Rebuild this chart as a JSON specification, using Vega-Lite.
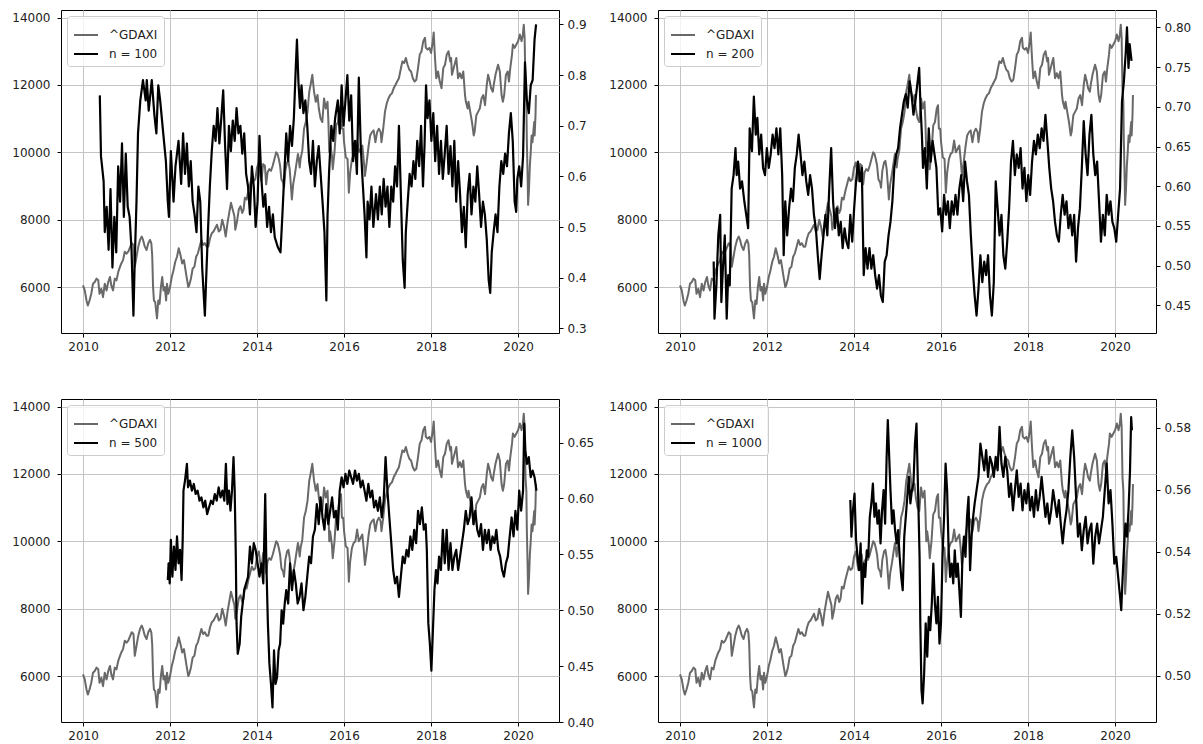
{
"$schema": "https://vega.github.io/schema/vega-lite/v6.json",
"padding": {"left": 11, "top": 9, "right": 0, "bottom": 0},
"background": "white",
"datasets": {
"dax": [
{"t":2010.00,"v":6050},{"t":2010.04,"v":5900},{"t":2010.08,"v":5600},{"t":2010.11,"v":5450},{"t":2010.15,"v":5600},{"t":2010.19,"v":5800},{"t":2010.23,"v":6100},{"t":2010.27,"v":6150},{"t":2010.31,"v":6250},{"t":2010.35,"v":6200},{"t":2010.38,"v":5800},{"t":2010.42,"v":5950},{"t":2010.46,"v":5700},{"t":2010.50,"v":6100},{"t":2010.54,"v":5900},{"t":2010.58,"v":6150},{"t":2010.62,"v":6300},{"t":2010.65,"v":6050},{"t":2010.69,"v":5900},{"t":2010.73,"v":6250},{"t":2010.77,"v":6200},{"t":2010.81,"v":6450},{"t":2010.85,"v":6600},{"t":2010.88,"v":6700},{"t":2010.92,"v":6800},{"t":2010.96,"v":7050},
{"t":2011.00,"v":6990},{"t":2011.04,"v":7050},{"t":2011.08,"v":7180},{"t":2011.12,"v":7300},{"t":2011.16,"v":7250},{"t":2011.19,"v":6600},{"t":2011.23,"v":6900},{"t":2011.27,"v":7200},{"t":2011.31,"v":7400},{"t":2011.35,"v":7500},{"t":2011.38,"v":7400},{"t":2011.42,"v":7200},{"t":2011.46,"v":7100},{"t":2011.50,"v":7300},{"t":2011.54,"v":7400},{"t":2011.57,"v":7300},{"t":2011.59,"v":6950},{"t":2011.61,"v":6000},{"t":2011.63,"v":5600},{"t":2011.66,"v":5550},{"t":2011.70,"v":5072},{"t":2011.73,"v":5600},{"t":2011.76,"v":5500},{"t":2011.79,"v":6000},{"t":2011.82,"v":6300},{"t":2011.85,"v":5900},{"t":2011.88,"v":6000},{"t":2011.91,"v":5600},{"t":2011.93,"v":6100},{"t":2011.96,"v":5800},
{"t":2012.00,"v":6000},{"t":2012.04,"v":6300},{"t":2012.08,"v":6500},{"t":2012.12,"v":6750},{"t":2012.16,"v":6900},{"t":2012.20,"v":7150},{"t":2012.24,"v":6950},{"t":2012.28,"v":6700},{"t":2012.32,"v":6800},{"t":2012.35,"v":6550},{"t":2012.38,"v":6300},{"t":2012.42,"v":6000},{"t":2012.44,"v":6050},{"t":2012.48,"v":6250},{"t":2012.52,"v":6550},{"t":2012.56,"v":6600},{"t":2012.60,"v":6900},{"t":2012.64,"v":7000},{"t":2012.68,"v":7200},{"t":2012.72,"v":7400},{"t":2012.76,"v":7250},{"t":2012.80,"v":7300},{"t":2012.84,"v":7200},{"t":2012.88,"v":7200},{"t":2012.92,"v":7450},{"t":2012.96,"v":7600},
{"t":2013.00,"v":7650},{"t":2013.04,"v":7750},{"t":2013.08,"v":7850},{"t":2013.12,"v":7650},{"t":2013.16,"v":7700},{"t":2013.20,"v":8000},{"t":2013.24,"v":7800},{"t":2013.28,"v":7500},{"t":2013.32,"v":7900},{"t":2013.36,"v":8200},{"t":2013.40,"v":8500},{"t":2013.44,"v":8300},{"t":2013.48,"v":8100},{"t":2013.50,"v":7700},{"t":2013.54,"v":7950},{"t":2013.58,"v":8300},{"t":2013.62,"v":8400},{"t":2013.66,"v":8200},{"t":2013.69,"v":8300},{"t":2013.72,"v":8650},{"t":2013.76,"v":8600},{"t":2013.80,"v":8850},{"t":2013.84,"v":9050},{"t":2013.88,"v":9250},{"t":2013.92,"v":9150},{"t":2013.96,"v":9200},
{"t":2014.00,"v":9550},{"t":2014.04,"v":9700},{"t":2014.08,"v":9300},{"t":2014.10,"v":9150},{"t":2014.14,"v":9650},{"t":2014.18,"v":9600},{"t":2014.21,"v":9050},{"t":2014.24,"v":9400},{"t":2014.28,"v":9500},{"t":2014.32,"v":9450},{"t":2014.36,"v":9600},{"t":2014.40,"v":9800},{"t":2014.44,"v":10000},{"t":2014.47,"v":9950},{"t":2014.50,"v":9800},{"t":2014.53,"v":9600},{"t":2014.56,"v":9200},{"t":2014.60,"v":9100},{"t":2014.62,"v":8950},{"t":2014.65,"v":9450},{"t":2014.69,"v":9700},{"t":2014.72,"v":9750},{"t":2014.75,"v":9500},{"t":2014.79,"v":8800},{"t":2014.80,"v":8600},{"t":2014.83,"v":9050},{"t":2014.87,"v":9350},{"t":2014.91,"v":9700},{"t":2014.94,"v":9950},{"t":2014.96,"v":9800},{"t":2014.98,"v":9550},
{"t":2015.00,"v":9800},{"t":2015.04,"v":10050},{"t":2015.08,"v":10700},{"t":2015.12,"v":10900},{"t":2015.16,"v":11200},{"t":2015.20,"v":11800},{"t":2015.23,"v":12000},{"t":2015.27,"v":12300},{"t":2015.31,"v":11800},{"t":2015.35,"v":11500},{"t":2015.39,"v":11700},{"t":2015.42,"v":11300},{"t":2015.46,"v":11000},{"t":2015.50,"v":10900},{"t":2015.54,"v":11600},{"t":2015.58,"v":11300},{"t":2015.62,"v":11500},{"t":2015.64,"v":10900},{"t":2015.66,"v":10000},{"t":2015.68,"v":10300},{"t":2015.72,"v":9900},{"t":2015.74,"v":9500},{"t":2015.78,"v":10000},{"t":2015.82,"v":10800},{"t":2015.86,"v":10900},{"t":2015.90,"v":11300},{"t":2015.93,"v":11400},{"t":2015.95,"v":10700},{"t":2015.98,"v":10700},
{"t":2016.00,"v":10300},{"t":2016.04,"v":9850},{"t":2016.08,"v":9800},{"t":2016.11,"v":8800},{"t":2016.14,"v":9400},{"t":2016.18,"v":9800},{"t":2016.22,"v":9950},{"t":2016.26,"v":10000},{"t":2016.30,"v":10350},{"t":2016.34,"v":10000},{"t":2016.38,"v":10100},{"t":2016.42,"v":10200},{"t":2016.45,"v":9800},{"t":2016.48,"v":9300},{"t":2016.52,"v":9700},{"t":2016.56,"v":10150},{"t":2016.60,"v":10500},{"t":2016.64,"v":10600},{"t":2016.68,"v":10650},{"t":2016.72,"v":10300},{"t":2016.76,"v":10600},{"t":2016.80,"v":10700},{"t":2016.84,"v":10600},{"t":2016.86,"v":10300},{"t":2016.90,"v":10700},{"t":2016.94,"v":11200},{"t":2016.98,"v":11450},
{"t":2017.02,"v":11600},{"t":2017.06,"v":11700},{"t":2017.10,"v":11750},{"t":2017.14,"v":11900},{"t":2017.18,"v":12000},{"t":2017.22,"v":12100},{"t":2017.26,"v":12200},{"t":2017.30,"v":12450},{"t":2017.34,"v":12700},{"t":2017.38,"v":12650},{"t":2017.42,"v":12800},{"t":2017.46,"v":12600},{"t":2017.50,"v":12450},{"t":2017.54,"v":12400},{"t":2017.58,"v":12200},{"t":2017.62,"v":12100},{"t":2017.66,"v":12150},{"t":2017.70,"v":12500},{"t":2017.74,"v":12900},{"t":2017.78,"v":13000},{"t":2017.82,"v":13300},{"t":2017.86,"v":13400},{"t":2017.88,"v":13100},{"t":2017.92,"v":13050},{"t":2017.96,"v":13100},
{"t":2018.00,"v":12950},{"t":2018.04,"v":13300},{"t":2018.06,"v":13560},{"t":2018.09,"v":12800},{"t":2018.12,"v":12200},{"t":2018.16,"v":12400},{"t":2018.20,"v":12100},{"t":2018.24,"v":11900},{"t":2018.28,"v":12500},{"t":2018.32,"v":12600},{"t":2018.36,"v":12900},{"t":2018.40,"v":13000},{"t":2018.44,"v":12700},{"t":2018.46,"v":12800},{"t":2018.48,"v":12300},{"t":2018.52,"v":12500},{"t":2018.56,"v":12700},{"t":2018.58,"v":12800},{"t":2018.62,"v":12200},{"t":2018.66,"v":12350},{"t":2018.70,"v":12200},{"t":2018.74,"v":12400},{"t":2018.78,"v":11700},{"t":2018.80,"v":11500},{"t":2018.84,"v":11300},{"t":2018.86,"v":11500},{"t":2018.90,"v":11200},{"t":2018.94,"v":10900},{"t":2018.98,"v":10500},
{"t":2019.00,"v":10600},{"t":2019.04,"v":11100},{"t":2019.08,"v":11200},{"t":2019.12,"v":11300},{"t":2019.16,"v":11600},{"t":2019.20,"v":11700},{"t":2019.24,"v":11400},{"t":2019.28,"v":12000},{"t":2019.31,"v":12300},{"t":2019.35,"v":12100},{"t":2019.38,"v":11900},{"t":2019.42,"v":11800},{"t":2019.44,"v":12000},{"t":2019.48,"v":12300},{"t":2019.52,"v":12500},{"t":2019.54,"v":12600},{"t":2019.58,"v":12400},{"t":2019.62,"v":11700},{"t":2019.65,"v":11500},{"t":2019.68,"v":11700},{"t":2019.72,"v":12300},{"t":2019.76,"v":12400},{"t":2019.79,"v":12100},{"t":2019.82,"v":12500},{"t":2019.86,"v":12900},{"t":2019.88,"v":13200},{"t":2019.92,"v":13100},{"t":2019.96,"v":13200},
{"t":2020.00,"v":13300},{"t":2020.04,"v":13500},{"t":2020.08,"v":13300},{"t":2020.11,"v":13500},{"t":2020.13,"v":13789},{"t":2020.15,"v":13400},{"t":2020.17,"v":11900},{"t":2020.19,"v":11500},{"t":2020.20,"v":10400},{"t":2020.22,"v":9200},{"t":2020.23,"v":8440},{"t":2020.25,"v":8900},{"t":2020.27,"v":9600},{"t":2020.29,"v":10000},{"t":2020.31,"v":10500},{"t":2020.33,"v":10300},{"t":2020.35,"v":10600},{"t":2020.37,"v":10900},{"t":2020.38,"v":10500},{"t":2020.40,"v":11100},{"t":2020.41,"v":11700}
],
"h": [
{"p":1,"t":2010.386,"v":0.76},{"p":1,"t":2010.413,"v":0.64},{"p":1,"t":2010.474,"v":0.59},{"p":1,"t":2010.500,"v":0.49},{"p":1,"t":2010.544,"v":0.54},{"p":1,"t":2010.588,"v":0.455},{"p":1,"t":2010.632,"v":0.575},{"p":1,"t":2010.676,"v":0.42},{"p":1,"t":2010.720,"v":0.52},{"p":1,"t":2010.764,"v":0.45},{"p":1,"t":2010.808,"v":0.62},{"p":1,"t":2010.852,"v":0.55},{"p":1,"t":2010.896,"v":0.665},{"p":1,"t":2010.939,"v":0.52},{"p":1,"t":2010.983,"v":0.645},
{"p":1,"t":2011.027,"v":0.54},{"p":1,"t":2011.071,"v":0.52},{"p":1,"t":2011.115,"v":0.455},{"p":1,"t":2011.159,"v":0.325},{"p":1,"t":2011.185,"v":0.42},{"p":1,"t":2011.229,"v":0.55},{"p":1,"t":2011.264,"v":0.685},{"p":1,"t":2011.317,"v":0.75},{"p":1,"t":2011.378,"v":0.79},{"p":1,"t":2011.440,"v":0.75},{"p":1,"t":2011.466,"v":0.79},{"p":1,"t":2011.510,"v":0.73},{"p":1,"t":2011.580,"v":0.79},{"p":1,"t":2011.642,"v":0.72},{"p":1,"t":2011.686,"v":0.685},{"p":1,"t":2011.730,"v":0.78},{"p":1,"t":2011.773,"v":0.75},{"p":1,"t":2011.844,"v":0.685},{"p":1,"t":2011.905,"v":0.63},{"p":1,"t":2011.949,"v":0.55},{"p":1,"t":2011.975,"v":0.52},
{"p":1,"t":2012.019,"v":0.65},{"p":1,"t":2012.081,"v":0.55},{"p":1,"t":2012.125,"v":0.62},{"p":1,"t":2012.195,"v":0.67},{"p":1,"t":2012.256,"v":0.585},{"p":1,"t":2012.300,"v":0.685},{"p":1,"t":2012.344,"v":0.605},{"p":1,"t":2012.388,"v":0.665},{"p":1,"t":2012.432,"v":0.58},{"p":1,"t":2012.476,"v":0.63},{"p":1,"t":2012.520,"v":0.55},{"p":1,"t":2012.564,"v":0.525},{"p":1,"t":2012.608,"v":0.49},{"p":1,"t":2012.652,"v":0.58},{"p":1,"t":2012.695,"v":0.55},{"p":1,"t":2012.739,"v":0.42},{"p":1,"t":2012.801,"v":0.325},{"p":1,"t":2012.827,"v":0.39},{"p":1,"t":2012.871,"v":0.49},{"p":1,"t":2012.915,"v":0.58},{"p":1,"t":2012.959,"v":0.65},
{"p":1,"t":2013.003,"v":0.70},{"p":1,"t":2013.047,"v":0.67},{"p":1,"t":2013.090,"v":0.735},{"p":1,"t":2013.134,"v":0.665},{"p":1,"t":2013.178,"v":0.715},{"p":1,"t":2013.222,"v":0.77},{"p":1,"t":2013.266,"v":0.66},{"p":1,"t":2013.310,"v":0.575},{"p":1,"t":2013.354,"v":0.70},{"p":1,"t":2013.398,"v":0.65},{"p":1,"t":2013.442,"v":0.71},{"p":1,"t":2013.486,"v":0.67},{"p":1,"t":2013.529,"v":0.735},{"p":1,"t":2013.573,"v":0.685},{"p":1,"t":2013.617,"v":0.70},{"p":1,"t":2013.661,"v":0.645},{"p":1,"t":2013.705,"v":0.685},{"p":1,"t":2013.749,"v":0.605},{"p":1,"t":2013.793,"v":0.58},{"p":1,"t":2013.837,"v":0.525},{"p":1,"t":2013.881,"v":0.62},{"p":1,"t":2013.925,"v":0.58},{"p":1,"t":2013.968,"v":0.50},
{"p":1,"t":2014.012,"v":0.55},{"p":1,"t":2014.056,"v":0.68},{"p":1,"t":2014.100,"v":0.595},{"p":1,"t":2014.144,"v":0.54},{"p":1,"t":2014.188,"v":0.565},{"p":1,"t":2014.232,"v":0.50},{"p":1,"t":2014.276,"v":0.54},{"p":1,"t":2014.320,"v":0.49},{"p":1,"t":2014.364,"v":0.525},{"p":1,"t":2014.407,"v":0.48},{"p":1,"t":2014.478,"v":0.46},{"p":1,"t":2014.539,"v":0.45},{"p":1,"t":2014.583,"v":0.525},{"p":1,"t":2014.627,"v":0.605},{"p":1,"t":2014.671,"v":0.685},{"p":1,"t":2014.715,"v":0.63},{"p":1,"t":2014.759,"v":0.70},{"p":1,"t":2014.803,"v":0.66},{"p":1,"t":2014.846,"v":0.715},{"p":1,"t":2014.890,"v":0.815},{"p":1,"t":2014.917,"v":0.87},{"p":1,"t":2014.952,"v":0.785},{"p":1,"t":2014.987,"v":0.735},
{"p":1,"t":2015.022,"v":0.78},{"p":1,"t":2015.066,"v":0.725},{"p":1,"t":2015.110,"v":0.75},{"p":1,"t":2015.154,"v":0.70},{"p":1,"t":2015.198,"v":0.63},{"p":1,"t":2015.241,"v":0.605},{"p":1,"t":2015.285,"v":0.67},{"p":1,"t":2015.329,"v":0.58},{"p":1,"t":2015.373,"v":0.63},{"p":1,"t":2015.417,"v":0.66},{"p":1,"t":2015.461,"v":0.605},{"p":1,"t":2015.505,"v":0.55},{"p":1,"t":2015.549,"v":0.49},{"p":1,"t":2015.593,"v":0.355},{"p":1,"t":2015.619,"v":0.52},{"p":1,"t":2015.654,"v":0.605},{"p":1,"t":2015.707,"v":0.70},{"p":1,"t":2015.751,"v":0.67},{"p":1,"t":2015.795,"v":0.715},{"p":1,"t":2015.856,"v":0.75},{"p":1,"t":2015.900,"v":0.685},{"p":1,"t":2015.944,"v":0.78},{"p":1,"t":2015.988,"v":0.70},
{"p":1,"t":2016.032,"v":0.75},{"p":1,"t":2016.076,"v":0.80},{"p":1,"t":2016.119,"v":0.71},{"p":1,"t":2016.163,"v":0.76},{"p":1,"t":2016.207,"v":0.63},{"p":1,"t":2016.251,"v":0.67},{"p":1,"t":2016.295,"v":0.605},{"p":1,"t":2016.339,"v":0.795},{"p":1,"t":2016.383,"v":0.66},{"p":1,"t":2016.427,"v":0.59},{"p":1,"t":2016.471,"v":0.525},{"p":1,"t":2016.514,"v":0.44},{"p":1,"t":2016.541,"v":0.55},{"p":1,"t":2016.585,"v":0.515},{"p":1,"t":2016.629,"v":0.58},{"p":1,"t":2016.673,"v":0.50},{"p":1,"t":2016.734,"v":0.565},{"p":1,"t":2016.778,"v":0.515},{"p":1,"t":2016.822,"v":0.58},{"p":1,"t":2016.866,"v":0.525},{"p":1,"t":2016.910,"v":0.595},{"p":1,"t":2016.954,"v":0.54},{"p":1,"t":2016.997,"v":0.58},
{"p":1,"t":2017.041,"v":0.50},{"p":1,"t":2017.085,"v":0.58},{"p":1,"t":2017.129,"v":0.55},{"p":1,"t":2017.173,"v":0.62},{"p":1,"t":2017.217,"v":0.58},{"p":1,"t":2017.261,"v":0.70},{"p":1,"t":2017.305,"v":0.565},{"p":1,"t":2017.349,"v":0.435},{"p":1,"t":2017.392,"v":0.38},{"p":1,"t":2017.419,"v":0.49},{"p":1,"t":2017.463,"v":0.55},{"p":1,"t":2017.507,"v":0.605},{"p":1,"t":2017.551,"v":0.58},{"p":1,"t":2017.594,"v":0.63},{"p":1,"t":2017.638,"v":0.595},{"p":1,"t":2017.682,"v":0.67},{"p":1,"t":2017.726,"v":0.62},{"p":1,"t":2017.770,"v":0.70},{"p":1,"t":2017.814,"v":0.58},{"p":1,"t":2017.849,"v":0.66},{"p":1,"t":2017.884,"v":0.78},{"p":1,"t":2017.919,"v":0.715},{"p":1,"t":2017.963,"v":0.75},
{"p":1,"t":2018.007,"v":0.67},{"p":1,"t":2018.051,"v":0.725},{"p":1,"t":2018.095,"v":0.63},{"p":1,"t":2018.139,"v":0.70},{"p":1,"t":2018.183,"v":0.605},{"p":1,"t":2018.227,"v":0.67},{"p":1,"t":2018.270,"v":0.595},{"p":1,"t":2018.314,"v":0.645},{"p":1,"t":2018.358,"v":0.70},{"p":1,"t":2018.402,"v":0.605},{"p":1,"t":2018.446,"v":0.66},{"p":1,"t":2018.490,"v":0.58},{"p":1,"t":2018.534,"v":0.67},{"p":1,"t":2018.578,"v":0.55},{"p":1,"t":2018.622,"v":0.63},{"p":1,"t":2018.666,"v":0.565},{"p":1,"t":2018.709,"v":0.49},{"p":1,"t":2018.753,"v":0.54},{"p":1,"t":2018.797,"v":0.46},{"p":1,"t":2018.841,"v":0.565},{"p":1,"t":2018.885,"v":0.605},{"p":1,"t":2018.929,"v":0.525},{"p":1,"t":2018.973,"v":0.58},
{"p":1,"t":2019.017,"v":0.55},{"p":1,"t":2019.061,"v":0.62},{"p":1,"t":2019.104,"v":0.565},{"p":1,"t":2019.148,"v":0.50},{"p":1,"t":2019.192,"v":0.55},{"p":1,"t":2019.236,"v":0.525},{"p":1,"t":2019.280,"v":0.475},{"p":1,"t":2019.324,"v":0.395},{"p":1,"t":2019.359,"v":0.37},{"p":1,"t":2019.394,"v":0.45},{"p":1,"t":2019.438,"v":0.49},{"p":1,"t":2019.482,"v":0.525},{"p":1,"t":2019.526,"v":0.49},{"p":1,"t":2019.570,"v":0.58},{"p":1,"t":2019.614,"v":0.63},{"p":1,"t":2019.658,"v":0.605},{"p":1,"t":2019.701,"v":0.645},{"p":1,"t":2019.745,"v":0.62},{"p":1,"t":2019.789,"v":0.685},{"p":1,"t":2019.833,"v":0.725},{"p":1,"t":2019.877,"v":0.67},{"p":1,"t":2019.921,"v":0.55},{"p":1,"t":2019.956,"v":0.53},{"p":1,"t":2019.982,"v":0.595},
{"p":1,"t":2020.026,"v":0.62},{"p":1,"t":2020.070,"v":0.58},{"p":1,"t":2020.114,"v":0.64},{"p":1,"t":2020.158,"v":0.825},{"p":1,"t":2020.202,"v":0.75},{"p":1,"t":2020.246,"v":0.725},{"p":1,"t":2020.290,"v":0.78},{"p":1,"t":2020.334,"v":0.79},{"p":1,"t":2020.378,"v":0.87},{"p":1,"t":2020.413,"v":0.90},

{"p":2,"t":2010.774,"v":0.505},{"p":2,"t":2010.792,"v":0.433},{"p":2,"t":2010.836,"v":0.475},{"p":2,"t":2010.880,"v":0.538},{"p":2,"t":2010.923,"v":0.564},{"p":2,"t":2010.950,"v":0.454},{"p":2,"t":2010.985,"v":0.496},
{"p":2,"t":2011.029,"v":0.538},{"p":2,"t":2011.073,"v":0.433},{"p":2,"t":2011.108,"v":0.488},{"p":2,"t":2011.143,"v":0.475},{"p":2,"t":2011.187,"v":0.597},{"p":2,"t":2011.231,"v":0.614},{"p":2,"t":2011.275,"v":0.648},{"p":2,"t":2011.302,"v":0.614},{"p":2,"t":2011.337,"v":0.631},{"p":2,"t":2011.381,"v":0.597},{"p":2,"t":2011.425,"v":0.606},{"p":2,"t":2011.478,"v":0.581},{"p":2,"t":2011.522,"v":0.564},{"p":2,"t":2011.566,"v":0.547},{"p":2,"t":2011.601,"v":0.673},{"p":2,"t":2011.653,"v":0.644},{"p":2,"t":2011.697,"v":0.713},{"p":2,"t":2011.741,"v":0.665},{"p":2,"t":2011.777,"v":0.686},{"p":2,"t":2011.821,"v":0.640},{"p":2,"t":2011.865,"v":0.665},{"p":2,"t":2011.909,"v":0.623},{"p":2,"t":2011.953,"v":0.614},{"p":2,"t":2011.996,"v":0.648},
{"p":2,"t":2012.040,"v":0.623},{"p":2,"t":2012.084,"v":0.640},{"p":2,"t":2012.128,"v":0.665},{"p":2,"t":2012.172,"v":0.648},{"p":2,"t":2012.216,"v":0.673},{"p":2,"t":2012.260,"v":0.640},{"p":2,"t":2012.304,"v":0.673},{"p":2,"t":2012.348,"v":0.614},{"p":2,"t":2012.383,"v":0.513},{"p":2,"t":2012.419,"v":0.581},{"p":2,"t":2012.463,"v":0.538},{"p":2,"t":2012.507,"v":0.572},{"p":2,"t":2012.551,"v":0.597},{"p":2,"t":2012.595,"v":0.581},{"p":2,"t":2012.639,"v":0.623},{"p":2,"t":2012.683,"v":0.640},{"p":2,"t":2012.726,"v":0.665},{"p":2,"t":2012.770,"v":0.640},{"p":2,"t":2012.814,"v":0.614},{"p":2,"t":2012.858,"v":0.631},{"p":2,"t":2012.902,"v":0.606},{"p":2,"t":2012.946,"v":0.589},{"p":2,"t":2012.990,"v":0.614},
{"p":2,"t":2013.034,"v":0.597},{"p":2,"t":2013.078,"v":0.564},{"p":2,"t":2013.122,"v":0.547},{"p":2,"t":2013.166,"v":0.513},{"p":2,"t":2013.210,"v":0.483},{"p":2,"t":2013.254,"v":0.513},{"p":2,"t":2013.298,"v":0.538},{"p":2,"t":2013.342,"v":0.564},{"p":2,"t":2013.386,"v":0.538},{"p":2,"t":2013.430,"v":0.597},{"p":2,"t":2013.474,"v":0.648},{"p":2,"t":2013.518,"v":0.581},{"p":2,"t":2013.562,"v":0.547},{"p":2,"t":2013.606,"v":0.572},{"p":2,"t":2013.650,"v":0.538},{"p":2,"t":2013.694,"v":0.555},{"p":2,"t":2013.738,"v":0.522},{"p":2,"t":2013.782,"v":0.547},{"p":2,"t":2013.826,"v":0.530},{"p":2,"t":2013.870,"v":0.522},{"p":2,"t":2013.914,"v":0.564},{"p":2,"t":2013.958,"v":0.530},
{"p":2,"t":2014.002,"v":0.572},{"p":2,"t":2014.046,"v":0.606},{"p":2,"t":2014.090,"v":0.631},{"p":2,"t":2014.134,"v":0.606},{"p":2,"t":2014.178,"v":0.623},{"p":2,"t":2014.222,"v":0.488},{"p":2,"t":2014.266,"v":0.522},{"p":2,"t":2014.310,"v":0.496},{"p":2,"t":2014.354,"v":0.522},{"p":2,"t":2014.398,"v":0.496},{"p":2,"t":2014.441,"v":0.513},{"p":2,"t":2014.485,"v":0.488},{"p":2,"t":2014.529,"v":0.471},{"p":2,"t":2014.573,"v":0.488},{"p":2,"t":2014.617,"v":0.462},{"p":2,"t":2014.661,"v":0.454},{"p":2,"t":2014.705,"v":0.505},{"p":2,"t":2014.749,"v":0.513},{"p":2,"t":2014.793,"v":0.538},{"p":2,"t":2014.837,"v":0.555},{"p":2,"t":2014.881,"v":0.581},{"p":2,"t":2014.925,"v":0.623},{"p":2,"t":2014.969,"v":0.640},
{"p":2,"t":2015.013,"v":0.648},{"p":2,"t":2015.057,"v":0.673},{"p":2,"t":2015.101,"v":0.690},{"p":2,"t":2015.145,"v":0.707},{"p":2,"t":2015.189,"v":0.716},{"p":2,"t":2015.233,"v":0.699},{"p":2,"t":2015.277,"v":0.732},{"p":2,"t":2015.321,"v":0.716},{"p":2,"t":2015.365,"v":0.690},{"p":2,"t":2015.409,"v":0.707},{"p":2,"t":2015.453,"v":0.728},{"p":2,"t":2015.497,"v":0.749},{"p":2,"t":2015.523,"v":0.707},{"p":2,"t":2015.559,"v":0.665},{"p":2,"t":2015.585,"v":0.623},{"p":2,"t":2015.629,"v":0.648},{"p":2,"t":2015.673,"v":0.597},{"p":2,"t":2015.717,"v":0.673},{"p":2,"t":2015.761,"v":0.631},{"p":2,"t":2015.805,"v":0.657},{"p":2,"t":2015.849,"v":0.640},{"p":2,"t":2015.893,"v":0.623},{"p":2,"t":2015.937,"v":0.564},{"p":2,"t":2015.981,"v":0.572},
{"p":2,"t":2016.025,"v":0.543},{"p":2,"t":2016.069,"v":0.589},{"p":2,"t":2016.113,"v":0.564},{"p":2,"t":2016.157,"v":0.581},{"p":2,"t":2016.201,"v":0.547},{"p":2,"t":2016.245,"v":0.581},{"p":2,"t":2016.289,"v":0.564},{"p":2,"t":2016.332,"v":0.589},{"p":2,"t":2016.376,"v":0.564},{"p":2,"t":2016.420,"v":0.597},{"p":2,"t":2016.464,"v":0.614},{"p":2,"t":2016.508,"v":0.581},{"p":2,"t":2016.552,"v":0.631},{"p":2,"t":2016.596,"v":0.606},{"p":2,"t":2016.640,"v":0.589},{"p":2,"t":2016.684,"v":0.538},{"p":2,"t":2016.728,"v":0.496},{"p":2,"t":2016.772,"v":0.462},{"p":2,"t":2016.816,"v":0.437},{"p":2,"t":2016.860,"v":0.471},{"p":2,"t":2016.904,"v":0.513},{"p":2,"t":2016.948,"v":0.479},{"p":2,"t":2016.992,"v":0.505},
{"p":2,"t":2017.036,"v":0.488},{"p":2,"t":2017.080,"v":0.513},{"p":2,"t":2017.124,"v":0.462},{"p":2,"t":2017.168,"v":0.437},{"p":2,"t":2017.212,"v":0.479},{"p":2,"t":2017.256,"v":0.606},{"p":2,"t":2017.300,"v":0.572},{"p":2,"t":2017.344,"v":0.538},{"p":2,"t":2017.388,"v":0.564},{"p":2,"t":2017.432,"v":0.513},{"p":2,"t":2017.476,"v":0.496},{"p":2,"t":2017.520,"v":0.530},{"p":2,"t":2017.564,"v":0.572},{"p":2,"t":2017.608,"v":0.631},{"p":2,"t":2017.652,"v":0.657},{"p":2,"t":2017.696,"v":0.614},{"p":2,"t":2017.740,"v":0.640},{"p":2,"t":2017.784,"v":0.623},{"p":2,"t":2017.828,"v":0.648},{"p":2,"t":2017.872,"v":0.597},{"p":2,"t":2017.916,"v":0.623},{"p":2,"t":2017.960,"v":0.581},
{"p":2,"t":2018.003,"v":0.614},{"p":2,"t":2018.047,"v":0.589},{"p":2,"t":2018.091,"v":0.631},{"p":2,"t":2018.135,"v":0.657},{"p":2,"t":2018.179,"v":0.640},{"p":2,"t":2018.223,"v":0.665},{"p":2,"t":2018.267,"v":0.648},{"p":2,"t":2018.311,"v":0.673},{"p":2,"t":2018.355,"v":0.657},{"p":2,"t":2018.399,"v":0.690},{"p":2,"t":2018.443,"v":0.657},{"p":2,"t":2018.487,"v":0.623},{"p":2,"t":2018.531,"v":0.597},{"p":2,"t":2018.575,"v":0.581},{"p":2,"t":2018.619,"v":0.555},{"p":2,"t":2018.663,"v":0.538},{"p":2,"t":2018.707,"v":0.530},{"p":2,"t":2018.751,"v":0.564},{"p":2,"t":2018.795,"v":0.589},{"p":2,"t":2018.839,"v":0.564},{"p":2,"t":2018.883,"v":0.581},{"p":2,"t":2018.927,"v":0.547},{"p":2,"t":2018.971,"v":0.564},
{"p":2,"t":2019.015,"v":0.538},{"p":2,"t":2019.059,"v":0.564},{"p":2,"t":2019.103,"v":0.505},{"p":2,"t":2019.147,"v":0.547},{"p":2,"t":2019.191,"v":0.572},{"p":2,"t":2019.235,"v":0.623},{"p":2,"t":2019.279,"v":0.682},{"p":2,"t":2019.323,"v":0.640},{"p":2,"t":2019.367,"v":0.614},{"p":2,"t":2019.411,"v":0.665},{"p":2,"t":2019.455,"v":0.690},{"p":2,"t":2019.499,"v":0.640},{"p":2,"t":2019.543,"v":0.614},{"p":2,"t":2019.587,"v":0.631},{"p":2,"t":2019.631,"v":0.581},{"p":2,"t":2019.675,"v":0.530},{"p":2,"t":2019.719,"v":0.564},{"p":2,"t":2019.763,"v":0.538},{"p":2,"t":2019.807,"v":0.589},{"p":2,"t":2019.851,"v":0.564},{"p":2,"t":2019.894,"v":0.581},{"p":2,"t":2019.938,"v":0.555},{"p":2,"t":2019.982,"v":0.547},
{"p":2,"t":2020.026,"v":0.530},{"p":2,"t":2020.070,"v":0.564},{"p":2,"t":2020.114,"v":0.597},{"p":2,"t":2020.158,"v":0.707},{"p":2,"t":2020.202,"v":0.732},{"p":2,"t":2020.246,"v":0.770},{"p":2,"t":2020.273,"v":0.800},{"p":2,"t":2020.308,"v":0.749},{"p":2,"t":2020.334,"v":0.779},{"p":2,"t":2020.378,"v":0.758},

{"p":3,"t":2011.949,"v":0.527},{"p":3,"t":2011.967,"v":0.542},{"p":3,"t":2011.993,"v":0.524},{"p":3,"t":2012.019,"v":0.563},{"p":3,"t":2012.054,"v":0.530},{"p":3,"t":2012.090,"v":0.557},{"p":3,"t":2012.125,"v":0.536},{"p":3,"t":2012.160,"v":0.566},{"p":3,"t":2012.195,"v":0.542},{"p":3,"t":2012.230,"v":0.554},{"p":3,"t":2012.265,"v":0.527},{"p":3,"t":2012.291,"v":0.563},{"p":3,"t":2012.309,"v":0.607},{"p":3,"t":2012.344,"v":0.616},{"p":3,"t":2012.388,"v":0.631},{"p":3,"t":2012.414,"v":0.610},{"p":3,"t":2012.458,"v":0.616},{"p":3,"t":2012.502,"v":0.607},{"p":3,"t":2012.546,"v":0.613},{"p":3,"t":2012.590,"v":0.604},{"p":3,"t":2012.634,"v":0.607},{"p":3,"t":2012.678,"v":0.598},{"p":3,"t":2012.722,"v":0.601},{"p":3,"t":2012.766,"v":0.592},{"p":3,"t":2012.809,"v":0.598},{"p":3,"t":2012.853,"v":0.586},{"p":3,"t":2012.897,"v":0.592},{"p":3,"t":2012.941,"v":0.598},{"p":3,"t":2012.985,"v":0.595},
{"p":3,"t":2013.029,"v":0.604},{"p":3,"t":2013.073,"v":0.598},{"p":3,"t":2013.117,"v":0.610},{"p":3,"t":2013.161,"v":0.601},{"p":3,"t":2013.205,"v":0.607},{"p":3,"t":2013.248,"v":0.598},{"p":3,"t":2013.284,"v":0.631},{"p":3,"t":2013.319,"v":0.595},{"p":3,"t":2013.354,"v":0.607},{"p":3,"t":2013.389,"v":0.589},{"p":3,"t":2013.424,"v":0.607},{"p":3,"t":2013.459,"v":0.637},{"p":3,"t":2013.486,"v":0.607},{"p":3,"t":2013.512,"v":0.548},{"p":3,"t":2013.529,"v":0.488},{"p":3,"t":2013.556,"v":0.461},{"p":3,"t":2013.600,"v":0.470},{"p":3,"t":2013.635,"v":0.494},{"p":3,"t":2013.670,"v":0.506},{"p":3,"t":2013.705,"v":0.518},{"p":3,"t":2013.749,"v":0.524},{"p":3,"t":2013.793,"v":0.530},{"p":3,"t":2013.837,"v":0.557},{"p":3,"t":2013.881,"v":0.542},{"p":3,"t":2013.925,"v":0.560},{"p":3,"t":2013.968,"v":0.554},
{"p":3,"t":2014.012,"v":0.542},{"p":3,"t":2014.056,"v":0.530},{"p":3,"t":2014.100,"v":0.542},{"p":3,"t":2014.144,"v":0.524},{"p":3,"t":2014.188,"v":0.604},{"p":3,"t":2014.214,"v":0.542},{"p":3,"t":2014.249,"v":0.488},{"p":3,"t":2014.284,"v":0.452},{"p":3,"t":2014.320,"v":0.434},{"p":3,"t":2014.355,"v":0.413},{"p":3,"t":2014.390,"v":0.464},{"p":3,"t":2014.425,"v":0.434},{"p":3,"t":2014.460,"v":0.440},{"p":3,"t":2014.495,"v":0.464},{"p":3,"t":2014.530,"v":0.470},{"p":3,"t":2014.565,"v":0.500},{"p":3,"t":2014.601,"v":0.488},{"p":3,"t":2014.636,"v":0.506},{"p":3,"t":2014.671,"v":0.518},{"p":3,"t":2014.715,"v":0.506},{"p":3,"t":2014.759,"v":0.542},{"p":3,"t":2014.803,"v":0.518},{"p":3,"t":2014.846,"v":0.536},{"p":3,"t":2014.890,"v":0.524},{"p":3,"t":2014.934,"v":0.506},{"p":3,"t":2014.978,"v":0.512},
{"p":3,"t":2015.022,"v":0.524},{"p":3,"t":2015.066,"v":0.500},{"p":3,"t":2015.110,"v":0.512},{"p":3,"t":2015.154,"v":0.530},{"p":3,"t":2015.198,"v":0.548},{"p":3,"t":2015.241,"v":0.542},{"p":3,"t":2015.285,"v":0.566},{"p":3,"t":2015.329,"v":0.572},{"p":3,"t":2015.373,"v":0.595},{"p":3,"t":2015.417,"v":0.577},{"p":3,"t":2015.461,"v":0.601},{"p":3,"t":2015.505,"v":0.583},{"p":3,"t":2015.549,"v":0.572},{"p":3,"t":2015.593,"v":0.595},{"p":3,"t":2015.637,"v":0.577},{"p":3,"t":2015.681,"v":0.589},{"p":3,"t":2015.725,"v":0.601},{"p":3,"t":2015.769,"v":0.583},{"p":3,"t":2015.812,"v":0.589},{"p":3,"t":2015.856,"v":0.572},{"p":3,"t":2015.900,"v":0.607},{"p":3,"t":2015.944,"v":0.619},{"p":3,"t":2015.988,"v":0.610},
{"p":3,"t":2016.032,"v":0.622},{"p":3,"t":2016.076,"v":0.613},{"p":3,"t":2016.119,"v":0.625},{"p":3,"t":2016.163,"v":0.619},{"p":3,"t":2016.207,"v":0.613},{"p":3,"t":2016.251,"v":0.625},{"p":3,"t":2016.295,"v":0.616},{"p":3,"t":2016.339,"v":0.622},{"p":3,"t":2016.383,"v":0.610},{"p":3,"t":2016.427,"v":0.616},{"p":3,"t":2016.471,"v":0.607},{"p":3,"t":2016.514,"v":0.598},{"p":3,"t":2016.558,"v":0.613},{"p":3,"t":2016.602,"v":0.601},{"p":3,"t":2016.646,"v":0.607},{"p":3,"t":2016.690,"v":0.592},{"p":3,"t":2016.734,"v":0.598},{"p":3,"t":2016.778,"v":0.589},{"p":3,"t":2016.822,"v":0.601},{"p":3,"t":2016.866,"v":0.583},{"p":3,"t":2016.910,"v":0.598},{"p":3,"t":2016.954,"v":0.637},{"p":3,"t":2016.997,"v":0.607},
{"p":3,"t":2017.041,"v":0.583},{"p":3,"t":2017.085,"v":0.560},{"p":3,"t":2017.129,"v":0.536},{"p":3,"t":2017.173,"v":0.524},{"p":3,"t":2017.217,"v":0.530},{"p":3,"t":2017.261,"v":0.512},{"p":3,"t":2017.305,"v":0.530},{"p":3,"t":2017.349,"v":0.548},{"p":3,"t":2017.392,"v":0.542},{"p":3,"t":2017.436,"v":0.554},{"p":3,"t":2017.480,"v":0.548},{"p":3,"t":2017.524,"v":0.566},{"p":3,"t":2017.568,"v":0.554},{"p":3,"t":2017.612,"v":0.572},{"p":3,"t":2017.656,"v":0.560},{"p":3,"t":2017.700,"v":0.589},{"p":3,"t":2017.744,"v":0.577},{"p":3,"t":2017.788,"v":0.592},{"p":3,"t":2017.832,"v":0.572},{"p":3,"t":2017.876,"v":0.577},{"p":3,"t":2017.902,"v":0.554},{"p":3,"t":2017.937,"v":0.488},{"p":3,"t":2017.972,"v":0.470},
{"p":3,"t":2018.007,"v":0.446},{"p":3,"t":2018.042,"v":0.482},{"p":3,"t":2018.077,"v":0.518},{"p":3,"t":2018.112,"v":0.536},{"p":3,"t":2018.147,"v":0.524},{"p":3,"t":2018.183,"v":0.548},{"p":3,"t":2018.227,"v":0.536},{"p":3,"t":2018.270,"v":0.572},{"p":3,"t":2018.314,"v":0.542},{"p":3,"t":2018.358,"v":0.572},{"p":3,"t":2018.402,"v":0.536},{"p":3,"t":2018.446,"v":0.560},{"p":3,"t":2018.490,"v":0.536},{"p":3,"t":2018.534,"v":0.548},{"p":3,"t":2018.578,"v":0.554},{"p":3,"t":2018.622,"v":0.536},{"p":3,"t":2018.666,"v":0.548},{"p":3,"t":2018.709,"v":0.560},{"p":3,"t":2018.753,"v":0.572},{"p":3,"t":2018.797,"v":0.589},{"p":3,"t":2018.841,"v":0.577},{"p":3,"t":2018.885,"v":0.583},{"p":3,"t":2018.929,"v":0.601},{"p":3,"t":2018.973,"v":0.577},
{"p":3,"t":2019.017,"v":0.589},{"p":3,"t":2019.061,"v":0.572},{"p":3,"t":2019.104,"v":0.566},{"p":3,"t":2019.148,"v":0.577},{"p":3,"t":2019.192,"v":0.554},{"p":3,"t":2019.236,"v":0.572},{"p":3,"t":2019.280,"v":0.560},{"p":3,"t":2019.324,"v":0.572},{"p":3,"t":2019.368,"v":0.554},{"p":3,"t":2019.412,"v":0.566},{"p":3,"t":2019.456,"v":0.560},{"p":3,"t":2019.500,"v":0.572},{"p":3,"t":2019.544,"v":0.554},{"p":3,"t":2019.588,"v":0.548},{"p":3,"t":2019.632,"v":0.536},{"p":3,"t":2019.675,"v":0.530},{"p":3,"t":2019.719,"v":0.542},{"p":3,"t":2019.763,"v":0.548},{"p":3,"t":2019.807,"v":0.566},{"p":3,"t":2019.851,"v":0.583},{"p":3,"t":2019.895,"v":0.566},{"p":3,"t":2019.939,"v":0.589},{"p":3,"t":2019.982,"v":0.572},
{"p":3,"t":2020.026,"v":0.607},{"p":3,"t":2020.070,"v":0.589},{"p":3,"t":2020.114,"v":0.607},{"p":3,"t":2020.141,"v":0.667},{"p":3,"t":2020.167,"v":0.643},{"p":3,"t":2020.202,"v":0.631},{"p":3,"t":2020.246,"v":0.637},{"p":3,"t":2020.290,"v":0.619},{"p":3,"t":2020.334,"v":0.625},{"p":3,"t":2020.378,"v":0.619},{"p":3,"t":2020.422,"v":0.607},

{"p":4,"t":2013.914,"v":0.5567},{"p":4,"t":2013.940,"v":0.5449},{"p":4,"t":2013.975,"v":0.5534},{"p":4,"t":2014.011,"v":0.5588},{"p":4,"t":2014.046,"v":0.5438},{"p":4,"t":2014.081,"v":0.5384},{"p":4,"t":2014.116,"v":0.5341},{"p":4,"t":2014.151,"v":0.5427},{"p":4,"t":2014.186,"v":0.5233},{"p":4,"t":2014.222,"v":0.5362},{"p":4,"t":2014.257,"v":0.5319},{"p":4,"t":2014.292,"v":0.5405},{"p":4,"t":2014.327,"v":0.5384},{"p":4,"t":2014.362,"v":0.5513},{"p":4,"t":2014.398,"v":0.5556},{"p":4,"t":2014.433,"v":0.5620},{"p":4,"t":2014.468,"v":0.5513},{"p":4,"t":2014.503,"v":0.5556},{"p":4,"t":2014.538,"v":0.5491},{"p":4,"t":2014.573,"v":0.5534},{"p":4,"t":2014.609,"v":0.5427},{"p":4,"t":2014.644,"v":0.5534},{"p":4,"t":2014.679,"v":0.5599},{"p":4,"t":2014.714,"v":0.5491},{"p":4,"t":2014.749,"v":0.5706},{"p":4,"t":2014.776,"v":0.5825},{"p":4,"t":2014.802,"v":0.5728},{"p":4,"t":2014.837,"v":0.5599},{"p":4,"t":2014.873,"v":0.5491},{"p":4,"t":2014.908,"v":0.5534},{"p":4,"t":2014.943,"v":0.5470},{"p":4,"t":2014.978,"v":0.5427},
{"p":4,"t":2015.013,"v":0.5470},{"p":4,"t":2015.048,"v":0.5384},{"p":4,"t":2015.084,"v":0.5319},{"p":4,"t":2015.119,"v":0.5276},{"p":4,"t":2015.154,"v":0.5449},{"p":4,"t":2015.189,"v":0.5513},{"p":4,"t":2015.224,"v":0.5577},{"p":4,"t":2015.259,"v":0.5642},{"p":4,"t":2015.295,"v":0.5556},{"p":4,"t":2015.330,"v":0.5599},{"p":4,"t":2015.365,"v":0.5620},{"p":4,"t":2015.400,"v":0.5749},{"p":4,"t":2015.435,"v":0.5814},{"p":4,"t":2015.471,"v":0.5599},{"p":4,"t":2015.506,"v":0.5384},{"p":4,"t":2015.523,"v":0.5169},{"p":4,"t":2015.550,"v":0.4954},{"p":4,"t":2015.576,"v":0.4911},{"p":4,"t":2015.611,"v":0.5008},{"p":4,"t":2015.646,"v":0.5169},{"p":4,"t":2015.682,"v":0.5062},{"p":4,"t":2015.717,"v":0.5190},{"p":4,"t":2015.752,"v":0.5147},{"p":4,"t":2015.787,"v":0.5233},{"p":4,"t":2015.822,"v":0.5362},{"p":4,"t":2015.858,"v":0.5233},{"p":4,"t":2015.893,"v":0.5169},{"p":4,"t":2015.928,"v":0.5255},{"p":4,"t":2015.963,"v":0.5104},{"p":4,"t":2015.998,"v":0.5169},
{"p":4,"t":2016.033,"v":0.5384},{"p":4,"t":2016.069,"v":0.5513},{"p":4,"t":2016.104,"v":0.5685},{"p":4,"t":2016.139,"v":0.5599},{"p":4,"t":2016.174,"v":0.5405},{"p":4,"t":2016.209,"v":0.5319},{"p":4,"t":2016.245,"v":0.5362},{"p":4,"t":2016.280,"v":0.5298},{"p":4,"t":2016.315,"v":0.5405},{"p":4,"t":2016.350,"v":0.5319},{"p":4,"t":2016.385,"v":0.5362},{"p":4,"t":2016.420,"v":0.5276},{"p":4,"t":2016.456,"v":0.5190},{"p":4,"t":2016.491,"v":0.5384},{"p":4,"t":2016.526,"v":0.5449},{"p":4,"t":2016.561,"v":0.5384},{"p":4,"t":2016.596,"v":0.5513},{"p":4,"t":2016.631,"v":0.5577},{"p":4,"t":2016.667,"v":0.5341},{"p":4,"t":2016.702,"v":0.5449},{"p":4,"t":2016.737,"v":0.5513},{"p":4,"t":2016.772,"v":0.5556},{"p":4,"t":2016.816,"v":0.5599},{"p":4,"t":2016.860,"v":0.5642},{"p":4,"t":2016.904,"v":0.5749},{"p":4,"t":2016.948,"v":0.5706},{"p":4,"t":2016.992,"v":0.5663},
{"p":4,"t":2017.036,"v":0.5728},{"p":4,"t":2017.080,"v":0.5642},{"p":4,"t":2017.124,"v":0.5706},{"p":4,"t":2017.168,"v":0.5685},{"p":4,"t":2017.212,"v":0.5642},{"p":4,"t":2017.256,"v":0.5706},{"p":4,"t":2017.300,"v":0.5663},{"p":4,"t":2017.344,"v":0.5803},{"p":4,"t":2017.388,"v":0.5685},{"p":4,"t":2017.432,"v":0.5642},{"p":4,"t":2017.476,"v":0.5706},{"p":4,"t":2017.520,"v":0.5663},{"p":4,"t":2017.564,"v":0.5577},{"p":4,"t":2017.608,"v":0.5620},{"p":4,"t":2017.652,"v":0.5534},{"p":4,"t":2017.696,"v":0.5599},{"p":4,"t":2017.740,"v":0.5663},{"p":4,"t":2017.784,"v":0.5577},{"p":4,"t":2017.828,"v":0.5620},{"p":4,"t":2017.872,"v":0.5534},{"p":4,"t":2017.916,"v":0.5599},{"p":4,"t":2017.960,"v":0.5556},
{"p":4,"t":2018.003,"v":0.5620},{"p":4,"t":2018.047,"v":0.5534},{"p":4,"t":2018.091,"v":0.5577},{"p":4,"t":2018.135,"v":0.5513},{"p":4,"t":2018.179,"v":0.5599},{"p":4,"t":2018.223,"v":0.5534},{"p":4,"t":2018.267,"v":0.5577},{"p":4,"t":2018.311,"v":0.5642},{"p":4,"t":2018.355,"v":0.5577},{"p":4,"t":2018.399,"v":0.5513},{"p":4,"t":2018.443,"v":0.5556},{"p":4,"t":2018.487,"v":0.5491},{"p":4,"t":2018.531,"v":0.5534},{"p":4,"t":2018.575,"v":0.5599},{"p":4,"t":2018.619,"v":0.5556},{"p":4,"t":2018.663,"v":0.5513},{"p":4,"t":2018.707,"v":0.5567},{"p":4,"t":2018.751,"v":0.5491},{"p":4,"t":2018.795,"v":0.5427},{"p":4,"t":2018.839,"v":0.5491},{"p":4,"t":2018.883,"v":0.5534},{"p":4,"t":2018.927,"v":0.5599},{"p":4,"t":2018.971,"v":0.5706},
{"p":4,"t":2019.015,"v":0.5792},{"p":4,"t":2019.059,"v":0.5706},{"p":4,"t":2019.103,"v":0.5577},{"p":4,"t":2019.147,"v":0.5449},{"p":4,"t":2019.191,"v":0.5491},{"p":4,"t":2019.235,"v":0.5405},{"p":4,"t":2019.279,"v":0.5470},{"p":4,"t":2019.323,"v":0.5513},{"p":4,"t":2019.367,"v":0.5427},{"p":4,"t":2019.411,"v":0.5470},{"p":4,"t":2019.455,"v":0.5491},{"p":4,"t":2019.499,"v":0.5362},{"p":4,"t":2019.543,"v":0.5449},{"p":4,"t":2019.587,"v":0.5491},{"p":4,"t":2019.631,"v":0.5427},{"p":4,"t":2019.675,"v":0.5470},{"p":4,"t":2019.719,"v":0.5513},{"p":4,"t":2019.763,"v":0.5599},{"p":4,"t":2019.807,"v":0.5685},{"p":4,"t":2019.851,"v":0.5556},{"p":4,"t":2019.894,"v":0.5599},{"p":4,"t":2019.938,"v":0.5491},{"p":4,"t":2019.982,"v":0.5362},
{"p":4,"t":2020.026,"v":0.5384},{"p":4,"t":2020.070,"v":0.5319},{"p":4,"t":2020.114,"v":0.5255},{"p":4,"t":2020.141,"v":0.5212},{"p":4,"t":2020.167,"v":0.5298},{"p":4,"t":2020.202,"v":0.5405},{"p":4,"t":2020.237,"v":0.5491},{"p":4,"t":2020.273,"v":0.5449},{"p":4,"t":2020.308,"v":0.5534},{"p":4,"t":2020.343,"v":0.5663},{"p":4,"t":2020.369,"v":0.5835},{"p":4,"t":2020.387,"v":0.5792}
]
},
"columns": 2,
"spacing": {"row": 66, "column": 99},
"bounds": "flush",
"resolve": {"scale": {"color": "independent", "x": "independent", "y": "independent"}, "legend": {"color": "independent"}},
"concat": [
{
"width": 498, "height": 323,
"layer": [
{"data": {"name": "dax"}, "mark": {"type": "line", "strokeWidth": 2, "strokeJoin": "round", "clip": true},
 "encoding": {
  "x": {"field": "t", "type": "quantitative", "scale": {"domain": [2009.494, 2020.94], "nice": false, "zero": false}, "axis": {"title": null, "values": [2010,2012,2014,2016,2018,2020], "format": "d"}},
  "y": {"field": "v", "type": "quantitative", "scale": {"domain": [4636, 14225], "nice": false, "zero": false}, "axis": {"title": null, "orient": "left", "values": [6000,8000,10000,12000,14000], "format": "d", "labelPadding": 7}},
  "color": {"datum": "^GDAXI", "type": "nominal", "scale": {"domain": ["^GDAXI", "n = 100"], "range": ["#696969", "#000000"]}, "legend": {"title": null}}
 }},
{"data": {"name": "h"}, "transform": [{"filter": "datum.p == 1"}], "mark": {"type": "line", "strokeWidth": 2.2, "strokeJoin": "round", "clip": true},
 "encoding": {
  "x": {"field": "t", "type": "quantitative"},
  "y": {"field": "v", "type": "quantitative", "scale": {"domain": [0.2907, 0.9286], "nice": false, "zero": false}, "axis": {"title": null, "orient": "right", "values": [0.3,0.4,0.5,0.6,0.7,0.8,0.9], "format": ".1f"}},
  "color": {"datum": "n = 100", "type": "nominal"}
 }}
],
"resolve": {"scale": {"y": "independent"}, "axis": {"y": "independent"}}
},
{
"width": 498, "height": 323,
"layer": [
{"data": {"name": "dax"}, "mark": {"type": "line", "strokeWidth": 2, "strokeJoin": "round", "clip": true},
 "encoding": {
  "x": {"field": "t", "type": "quantitative", "scale": {"domain": [2009.494, 2020.94], "nice": false, "zero": false}, "axis": {"title": null, "values": [2010,2012,2014,2016,2018,2020], "format": "d"}},
  "y": {"field": "v", "type": "quantitative", "scale": {"domain": [4636, 14225], "nice": false, "zero": false}, "axis": {"title": null, "orient": "left", "values": [6000,8000,10000,12000,14000], "format": "d", "labelPadding": 7}},
  "color": {"datum": "^GDAXI", "type": "nominal", "scale": {"domain": ["^GDAXI", "n = 200"], "range": ["#696969", "#000000"]}, "legend": {"title": null}}
 }},
{"data": {"name": "h"}, "transform": [{"filter": "datum.p == 2"}], "mark": {"type": "line", "strokeWidth": 2.2, "strokeJoin": "round", "clip": true},
 "encoding": {
  "x": {"field": "t", "type": "quantitative"},
  "y": {"field": "v", "type": "quantitative", "scale": {"domain": [0.415, 0.822], "nice": false, "zero": false}, "axis": {"title": null, "orient": "right", "values": [0.45,0.5,0.55,0.6,0.65,0.7,0.75,0.8], "format": ".2f"}},
  "color": {"datum": "n = 200", "type": "nominal"}
 }}
],
"resolve": {"scale": {"y": "independent"}, "axis": {"y": "independent"}}
},
{
"width": 498, "height": 323,
"layer": [
{"data": {"name": "dax"}, "mark": {"type": "line", "strokeWidth": 2, "strokeJoin": "round", "clip": true},
 "encoding": {
  "x": {"field": "t", "type": "quantitative", "scale": {"domain": [2009.494, 2020.94], "nice": false, "zero": false}, "axis": {"title": null, "values": [2010,2012,2014,2016,2018,2020], "format": "d"}},
  "y": {"field": "v", "type": "quantitative", "scale": {"domain": [4636, 14225], "nice": false, "zero": false}, "axis": {"title": null, "orient": "left", "values": [6000,8000,10000,12000,14000], "format": "d", "labelPadding": 7}},
  "color": {"datum": "^GDAXI", "type": "nominal", "scale": {"domain": ["^GDAXI", "n = 500"], "range": ["#696969", "#000000"]}, "legend": {"title": null}}
 }},
{"data": {"name": "h"}, "transform": [{"filter": "datum.p == 3"}], "mark": {"type": "line", "strokeWidth": 2.2, "strokeJoin": "round", "clip": true},
 "encoding": {
  "x": {"field": "t", "type": "quantitative"},
  "y": {"field": "v", "type": "quantitative", "scale": {"domain": [0.4, 0.689], "nice": false, "zero": false}, "axis": {"title": null, "orient": "right", "values": [0.4,0.45,0.5,0.55,0.6,0.65], "format": ".2f"}},
  "color": {"datum": "n = 500", "type": "nominal"}
 }}
],
"resolve": {"scale": {"y": "independent"}, "axis": {"y": "independent"}}
},
{
"width": 498, "height": 323,
"layer": [
{"data": {"name": "dax"}, "mark": {"type": "line", "strokeWidth": 2, "strokeJoin": "round", "clip": true},
 "encoding": {
  "x": {"field": "t", "type": "quantitative", "scale": {"domain": [2009.494, 2020.94], "nice": false, "zero": false}, "axis": {"title": null, "values": [2010,2012,2014,2016,2018,2020], "format": "d"}},
  "y": {"field": "v", "type": "quantitative", "scale": {"domain": [4636, 14225], "nice": false, "zero": false}, "axis": {"title": null, "orient": "left", "values": [6000,8000,10000,12000,14000], "format": "d", "labelPadding": 7}},
  "color": {"datum": "^GDAXI", "type": "nominal", "scale": {"domain": ["^GDAXI", "n = 1000"], "range": ["#696969", "#000000"]}, "legend": {"title": null}}
 }},
{"data": {"name": "h"}, "transform": [{"filter": "datum.p == 4"}], "mark": {"type": "line", "strokeWidth": 2.2, "strokeJoin": "round", "clip": true},
 "encoding": {
  "x": {"field": "t", "type": "quantitative"},
  "y": {"field": "v", "type": "quantitative", "scale": {"domain": [0.4851, 0.5893], "nice": false, "zero": false}, "axis": {"title": null, "orient": "right", "values": [0.5,0.52,0.54,0.56,0.58], "format": ".2f"}},
  "color": {"datum": "n = 1000", "type": "nominal"}
 }}
],
"resolve": {"scale": {"y": "independent"}, "axis": {"y": "independent"}}
}
],
"config": {
 "view": {"stroke": "#000000", "strokeWidth": 1},
 "axis": {"domain": false, "grid": true, "gridColor": "#c4c4c4", "gridWidth": 1, "tickColor": "#000000", "tickSize": 4, "tickWidth": 1, "labelFont": "DejaVu Sans", "labelFontSize": 12, "labelColor": "#222222", "labelPadding": 4},
 "legend": {"orient": "top-left", "offset": 6, "symbolType": "stroke", "symbolSize": 576, "symbolStrokeWidth": 2, "labelFont": "DejaVu Sans", "labelFontSize": 12, "labelColor": "#222222", "fillColor": "rgba(255,255,255,0.8)", "strokeColor": "#cccccc", "cornerRadius": 3, "padding": 6, "labelOffset": 10, "rowPadding": -5}
}
}
